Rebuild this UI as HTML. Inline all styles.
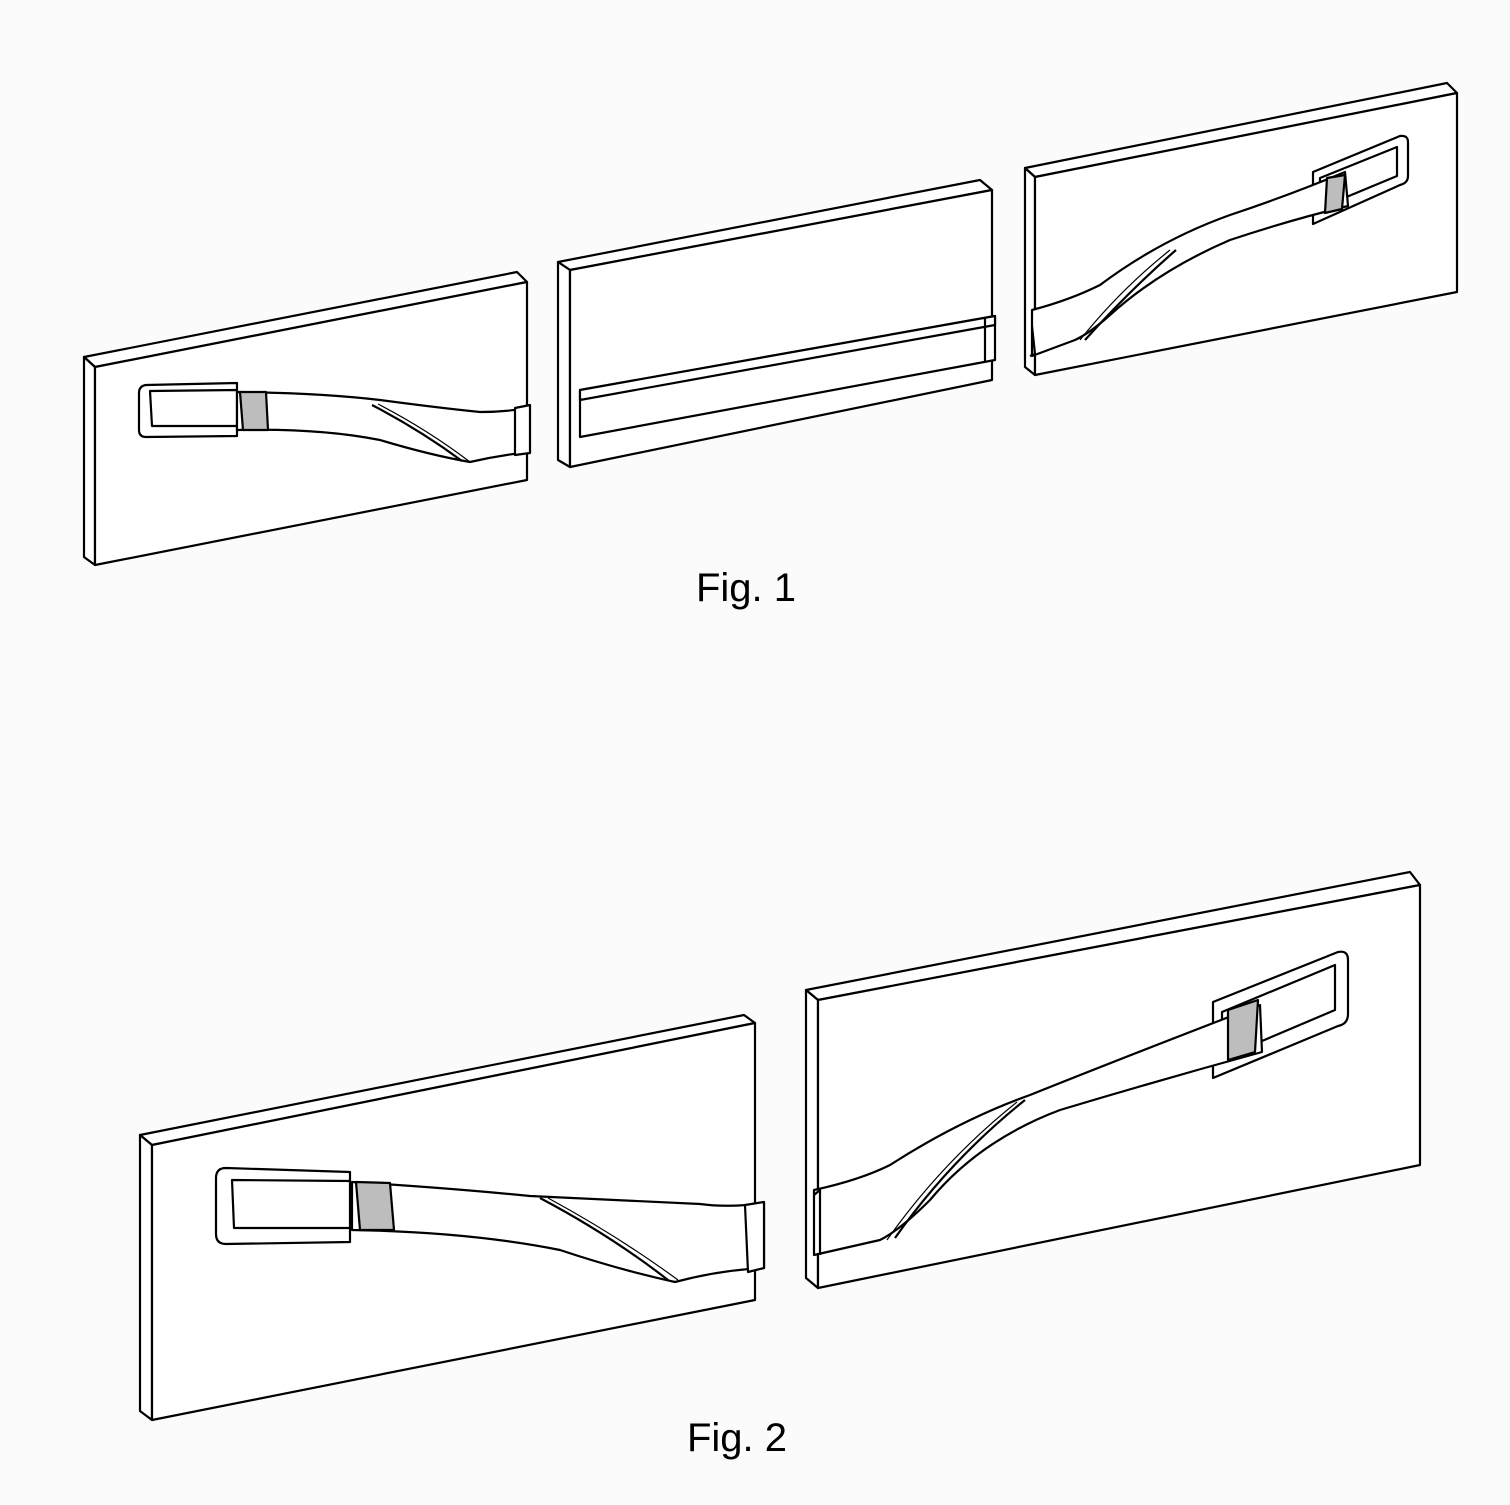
<!DOCTYPE html>
<html><head><meta charset="utf-8"><style>
html,body{margin:0;padding:0;background:#fbfbfb;}
svg{display:block}
text{font-family:"Liberation Sans",Arial,sans-serif;}
</style></head><body>
<svg width="1510" height="1505" viewBox="0 0 1510 1505" xmlns="http://www.w3.org/2000/svg">
<rect width="1510" height="1505" fill="#fbfbfb"/>
<g fill="#fff" stroke="#000" stroke-width="2.2" stroke-linejoin="round">

<!-- Fig1 left panel -->
<polygon points="84,357 517,272 527,282 95,367"/>
<polygon points="84,357 95,367 95,565 84,557"/>
<polygon points="95,367 527,282 527,480 95,565"/>
<!-- handle -->
<path d="M237,383 L146,385 Q139,386 139,393 L139,430 Q139,437 146,437 L237,436 Z"/>
<path d="M150,391 L237,390 L237,426 L152,426 Z"/>
<path d="M237,392 Q320,393 380,400 Q440,408 480,412 Q505,412 528,408 L530,452 Q500,455 470,462 Q430,455 380,440 Q320,428 237,430 Z"/>
<path d="M515,408 L530,405 L530,453 L515,455 Z"/>
<polygon points="240,392 266,392 268,430 243,430" fill="#bdbdbd"/>
<path d="M372,405 Q420,430 462,461" fill="none"/>
<path d="M378,404 Q428,430 470,462" fill="none" stroke-width="1.2"/>

<!-- Fig1 middle panel -->
<polygon points="558,262 980,180 992,190 570,270"/>
<polygon points="558,262 570,270 570,467 558,460"/>
<polygon points="570,270 992,190 992,380 570,467"/>
<polygon points="580,390 995,316 995,360 580,437"/>
<polygon points="580,390 995,316 995,325 580,400"/>
<line x1="985" y1="318" x2="985" y2="362"/>

<!-- Fig1 right panel -->
<polygon points="1025,168 1447,83 1457,93 1035,177"/>
<polygon points="1025,168 1035,177 1035,375 1025,367"/>
<polygon points="1035,177 1457,93 1457,292 1035,375"/>
<path d="M1313,172 L1400,136 Q1408,135 1408,142 L1408,176 Q1408,183 1400,185 L1313,224 Z"/>
<path d="M1320,178 L1397,147 L1397,176 L1320,208 Z"/>
<path d="M1032,310 Q1070,300 1100,285 Q1160,240 1230,215 Q1290,195 1345,172 L1348,206 Q1290,220 1230,240 Q1160,270 1110,315 Q1090,333 1075,340 L1032,356 Z"/>
<polygon points="1327,178 1345,175 1342,209 1325,213" fill="#bdbdbd"/>
<path d="M1032,326 L1035,354 L1030,356" fill="none"/>
<path d="M1176,250 Q1130,290 1085,340" fill="none"/>
<path d="M1170,250 Q1120,290 1080,340" fill="none" stroke-width="1.2"/>

<!-- Fig2 left panel -->
<polygon points="140,1135 744,1015 755,1023 152,1145"/>
<polygon points="140,1135 152,1145 152,1420 140,1411"/>
<polygon points="152,1145 755,1023 755,1300 152,1420"/>
<path d="M350,1172 L226,1168 Q216,1168 216,1178 L216,1234 Q216,1244 226,1244 L350,1242 Z"/>
<path d="M232,1180 L350,1181 L350,1228 L234,1228 Z"/>
<path d="M352,1182 Q450,1188 530,1196 Q620,1200 700,1204 Q730,1208 764,1203 L764,1268 Q720,1270 675,1282 Q620,1270 560,1250 Q470,1232 352,1230 Z"/>
<path d="M745,1205 L764,1202 L764,1268 L748,1272 Z"/>
<polygon points="356,1182 390,1183 394,1230 360,1230" fill="#bdbdbd"/>
<path d="M540,1198 Q610,1235 668,1280" fill="none"/>
<path d="M548,1198 Q618,1236 678,1280" fill="none" stroke-width="1.2"/>

<!-- Fig2 right panel -->
<polygon points="806,990 1410,872 1420,885 818,1000"/>
<polygon points="806,990 818,1000 818,1288 806,1278"/>
<polygon points="818,1000 1420,885 1420,1165 818,1288"/>
<path d="M1213,1002 L1338,952 Q1348,950 1348,960 L1348,1014 Q1348,1024 1338,1026 L1213,1078 Z"/>
<path d="M1222,1012 L1335,965 L1335,1010 L1222,1058 Z"/>
<path d="M814,1190 Q860,1180 890,1165 Q960,1120 1030,1095 Q1130,1055 1260,1005 L1262,1052 Q1160,1080 1060,1110 Q980,1140 930,1200 Q900,1230 880,1240 L814,1255 Z"/>
<polygon points="1228,1010 1258,1000 1255,1052 1228,1060" fill="#bdbdbd"/>
<path d="M814,1195 L820,1190 L820,1255" fill="none"/>
<path d="M1025,1100 Q950,1160 895,1238" fill="none"/>
<path d="M1017,1102 Q942,1162 887,1240" fill="none" stroke-width="1.2"/>
</g>
<text x="746" y="601" font-size="40" text-anchor="middle" fill="#000">Fig. 1</text>
<text x="737" y="1451" font-size="40" text-anchor="middle" fill="#000">Fig. 2</text>
</svg>
</body></html>
